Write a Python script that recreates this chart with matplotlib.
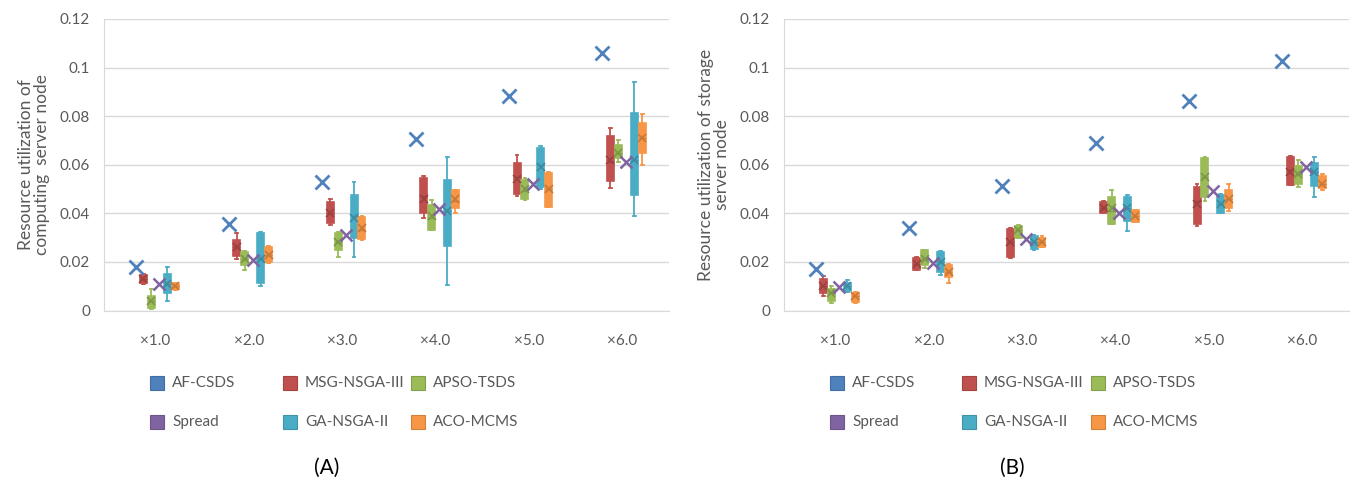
import numpy as np
import matplotlib.pyplot as plt
from matplotlib.patches import Rectangle

plt.rcParams['font.family'] = ['Lato', 'DejaVu Sans']

# categories and series
categories = ['×1.0', '×2.0', '×3.0', '×4.0', '×5.0', '×6.0']
series = ['AF-CSDS', 'MSG-NSGA-III', 'APSO-TSDS', 'Spread', 'GA-NSGA-II', 'ACO-MCMS']
colors = ['#4F81BD', '#C0504D', '#9BBB59', '#8064A2', '#4BACC6', '#F79646']

# single-point series (mean markers only)
a_afcsds = [0.018, 0.0355, 0.053, 0.0707, 0.0882, 0.106]
a_spread = [0.011, 0.0206, 0.031, 0.0417, 0.052, 0.061]
b_afcsds = [0.017, 0.034, 0.0511, 0.0689, 0.0862, 0.1027]
b_spread = [0.0095, 0.0194, 0.0293, 0.040, 0.049, 0.059]

# box series: rows = [whislo, q1, med, q3, whishi, mean] per category
a_msg = [[0.011, 0.0115, 0.013, 0.0145, 0.015, 0.013],
         [0.021, 0.0225, 0.026, 0.029, 0.032, 0.026],
         [0.035, 0.036, 0.040, 0.0445, 0.046, 0.040],
         [0.038, 0.040, 0.047, 0.0544, 0.0553, 0.046],
         [0.047, 0.048, 0.055, 0.0606, 0.0639, 0.054],
         [0.0503, 0.0532, 0.061, 0.0718, 0.075, 0.062]]
a_apso = [[0.0005, 0.001, 0.004, 0.006, 0.009, 0.004],
          [0.0165, 0.0186, 0.021, 0.024, 0.0245, 0.021],
          [0.022, 0.0247, 0.028, 0.032, 0.0325, 0.028],
          [0.033, 0.033, 0.038, 0.0433, 0.0454, 0.039],
          [0.0455, 0.0458, 0.049, 0.0536, 0.0545, 0.050],
          [0.061, 0.0627, 0.065, 0.068, 0.070, 0.065]]
a_ga = [[0.004, 0.007, 0.011, 0.015, 0.018, 0.011],
        [0.010, 0.0115, 0.021, 0.032, 0.0325, 0.021],
        [0.0219, 0.0297, 0.039, 0.0474, 0.0528, 0.038],
        [0.0103, 0.0264, 0.041, 0.0536, 0.063, 0.041],
        [0.050, 0.0507, 0.060, 0.0668, 0.0676, 0.059],
        [0.039, 0.0474, 0.062, 0.0813, 0.094, 0.062]]
a_aco = [[0.0085, 0.009, 0.010, 0.011, 0.0115, 0.010],
         [0.0195, 0.0198, 0.023, 0.026, 0.0265, 0.023],
         [0.029, 0.0293, 0.033, 0.0384, 0.039, 0.034],
         [0.040, 0.042, 0.045, 0.0495, 0.0495, 0.046],
         [0.0425, 0.0425, 0.050, 0.0565, 0.057, 0.050],
         [0.060, 0.065, 0.071, 0.077, 0.081, 0.071]]

b_msg = [[0.006, 0.0074, 0.010, 0.013, 0.014, 0.010],
         [0.0165, 0.0165, 0.019, 0.0215, 0.022, 0.019],
         [0.0215, 0.0219, 0.028, 0.0334, 0.034, 0.028],
         [0.040, 0.040, 0.042, 0.0445, 0.045, 0.042],
         [0.0347, 0.0355, 0.045, 0.051, 0.052, 0.044],
         [0.0515, 0.0515, 0.058, 0.063, 0.0635, 0.057]]
b_apso = [[0.003, 0.004, 0.007, 0.009, 0.010, 0.007],
          [0.0175, 0.0186, 0.021, 0.0248, 0.025, 0.021],
          [0.030, 0.030, 0.033, 0.0347, 0.035, 0.033],
          [0.0355, 0.0355, 0.041, 0.0466, 0.0495, 0.042],
          [0.045, 0.0466, 0.055, 0.0627, 0.063, 0.055],
          [0.051, 0.052, 0.056, 0.0594, 0.062, 0.056]]
b_ga = [[0.0075, 0.008, 0.010, 0.0115, 0.0125, 0.010],
        [0.0145, 0.0157, 0.020, 0.024, 0.0245, 0.020],
        [0.025, 0.0252, 0.028, 0.0305, 0.031, 0.028],
        [0.0326, 0.037, 0.042, 0.0466, 0.0475, 0.042],
        [0.040, 0.040, 0.044, 0.0475, 0.048, 0.044],
        [0.0466, 0.0512, 0.057, 0.0606, 0.063, 0.057]]
b_aco = [[0.003, 0.0037, 0.006, 0.0074, 0.0078, 0.006],
         [0.0115, 0.0136, 0.016, 0.0186, 0.019, 0.016],
         [0.026, 0.026, 0.028, 0.030, 0.0305, 0.028],
         [0.0363, 0.0363, 0.039, 0.0412, 0.0415, 0.039],
         [0.041, 0.042, 0.046, 0.0495, 0.052, 0.046],
         [0.0495, 0.0503, 0.052, 0.0553, 0.056, 0.052]]

yticks = [0, 0.02, 0.04, 0.06, 0.08, 0.1, 0.12]
ytick_labels = ['0', '0.02', '0.04', '0.06', '0.08', '0.1', '0.12']

gray = '#595959'
step = 0.085
offsets = [(i - 2.5) * step for i in range(6)]
x = np.arange(1, len(categories) + 1)


def darker(c, f=0.75):
    r, g, b = [int(c[i:i + 2], 16) / 255 for i in (1, 3, 5)]
    return (r * f, g * f, b * f)


def draw_boxes(ax, rows, pos, color):
    stats = [dict(whislo=r[0], q1=r[1], med=r[2], q3=r[3], whishi=r[4], mean=r[5]) for r in rows]
    ax.bxp(stats, positions=pos, widths=0.075, patch_artist=True, showmeans=True,
           showfliers=False,
           boxprops=dict(facecolor=color, edgecolor=color, linewidth=1.2),
           medianprops=dict(color=darker(color, 0.85), linewidth=1),
           whiskerprops=dict(color=color, linewidth=1.3),
           capprops=dict(color=color, linewidth=1.3),
           meanprops=dict(marker='x', markeredgecolor=darker(color, 0.8),
                          markersize=6, markeredgewidth=1.2),
           capwidths=0.03, zorder=3)


def panel(ax, af, msg, apso, spread, ga, aco, ylabel):
    ax.plot(x + offsets[0], af, ls='none', marker='x', ms=10, mew=2,
            color=colors[0], zorder=4)
    draw_boxes(ax, msg, x + offsets[1], colors[1])
    draw_boxes(ax, apso, x + offsets[2], colors[2])
    ax.plot(x + offsets[3], spread, ls='none', marker='x', ms=8, mew=1.8,
            color=colors[3], zorder=4)
    draw_boxes(ax, ga, x + offsets[4], colors[4])
    draw_boxes(ax, aco, x + offsets[5], colors[5])

    ax.set_xlim(0.45, 6.5)
    ax.set_ylim(0, 0.12)
    ax.set_yticks(yticks)
    ax.set_yticklabels(ytick_labels)
    ax.set_xticks(x)
    ax.set_xticklabels(categories)
    ax.tick_params(length=0, labelsize=11, colors=gray)
    ax.tick_params(axis='x', pad=17)
    ax.tick_params(axis='y', pad=10)
    ax.grid(axis='y', color='#D9D9D9', linewidth=1)
    ax.set_axisbelow(True)
    for s in ['top', 'right']:
        ax.spines[s].set_visible(False)
    for s in ['left', 'bottom']:
        ax.spines[s].set_color('#D9D9D9')
    ax.set_ylabel(ylabel, fontsize=12.5, color=gray, labelpad=7, linespacing=1.0)


fig = plt.figure(figsize=(13.56, 4.83), dpi=100)
W, H = 1356, 483
ax1 = fig.add_axes([104 / W, 1 - 310.5 / H, 565 / W, 291.5 / H])
ax2 = fig.add_axes([784 / W, 1 - 310.5 / H, 565 / W, 291.5 / H])

panel(ax1, a_afcsds, a_msg, a_apso, a_spread, a_ga, a_aco,
      'Resource utilization of\ncomputing  server node')
panel(ax2, b_afcsds, b_msg, b_apso, b_spread, b_ga, b_aco,
      'Resource utilization of storage\nserver node')

# legends drawn below each panel
leg_cols = [[150, 283, 411], [830, 962, 1091]]
leg_rows = [383, 422]
for cols in leg_cols:
    for i, (name, c) in enumerate(zip(series, colors)):
        px = cols[i % 3]
        py = leg_rows[i // 3]
        fig.patches.append(Rectangle((px / W, 1 - (py + 7) / H), 14 / W, 14 / H,
                                     facecolor=c, edgecolor=darker(c, 0.85), lw=0.8,
                                     transform=fig.transFigure))
        fig.text((px + 22) / W, 1 - py / H, name, fontsize=11, color=gray,
                 va='center', ha='left')

fig.text(327 / W, 1 - 468 / H, '(A)', fontsize=15, ha='center', va='center')
fig.text(1012 / W, 1 - 468 / H, '(B)', fontsize=15, ha='center', va='center')

fig.savefig('out.png', dpi=100)
